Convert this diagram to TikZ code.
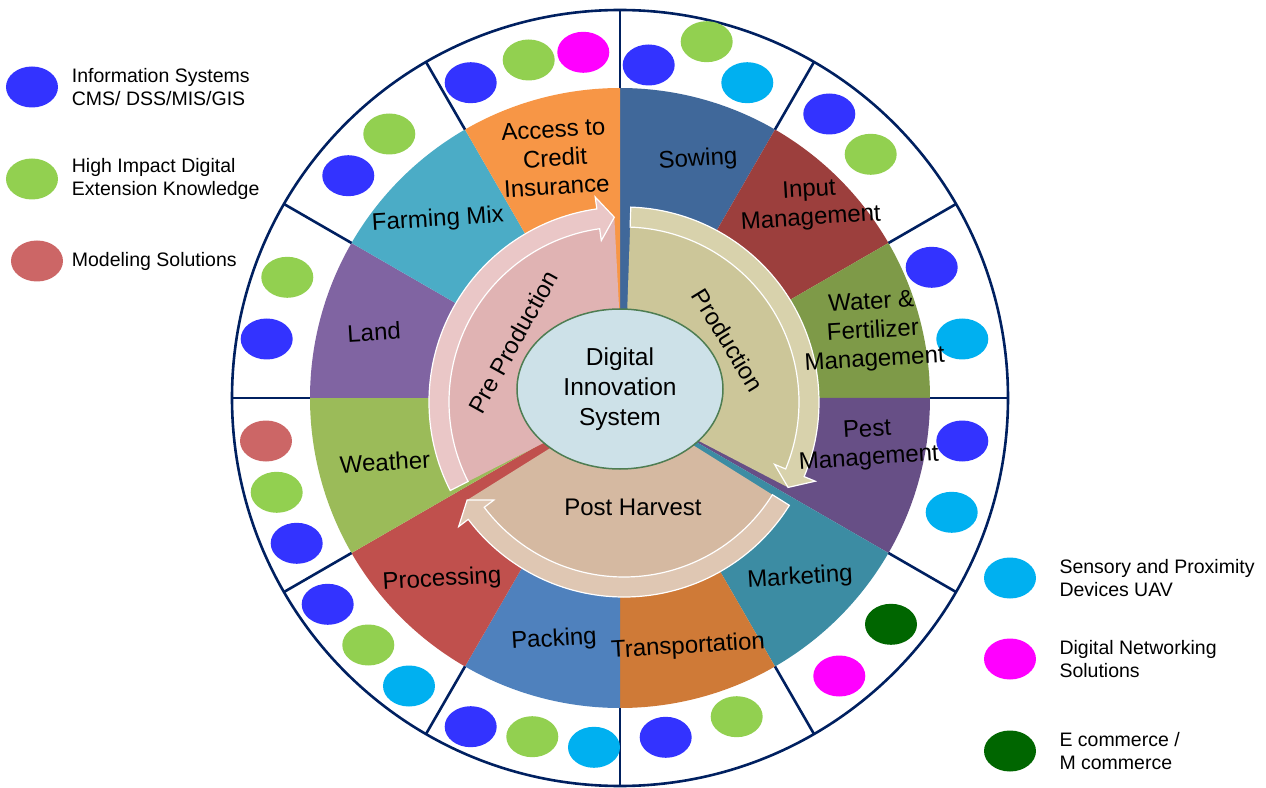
\documentclass[tikz,border=0pt]{standalone}
\usepackage{fontspec}
\setmainfont{Liberation Sans}
\usetikzlibrary{shapes.geometric}
\definecolor{navy}{HTML}{002060}
\definecolor{caccess}{HTML}{F79646}
\definecolor{csow}{HTML}{40689A}
\definecolor{cinput}{HTML}{9C3F3D}
\definecolor{cwater}{HTML}{7E9A48}
\definecolor{cpest}{HTML}{674F86}
\definecolor{cmarket}{HTML}{3C8CA3}
\definecolor{ctrans}{HTML}{CF7A37}
\definecolor{cpack}{HTML}{4F81BD}
\definecolor{cproc}{HTML}{C0504D}
\definecolor{cweather}{HTML}{9BBB59}
\definecolor{cland}{HTML}{8064A2}
\definecolor{cfarm}{HTML}{4BACC6}
\definecolor{dblue}{HTML}{3333FF}
\definecolor{dgreen}{HTML}{92D050}
\definecolor{dred}{HTML}{CC6666}
\definecolor{dcyan}{HTML}{00B0F0}
\definecolor{dmag}{HTML}{FF00FF}
\definecolor{ddark}{HTML}{006600}
\definecolor{prefill}{HTML}{E0B3B3}
\definecolor{preband}{HTML}{EAC7C7}
\definecolor{prodfill}{HTML}{CCC699}
\definecolor{prodband}{HTML}{D8D2AC}
\definecolor{postfill}{HTML}{D5B9A1}
\definecolor{postband}{HTML}{DFC7B3}
\definecolor{ellfill}{HTML}{CDE1E8}
\definecolor{ellline}{HTML}{4E7D52}
\begin{document}
\begin{tikzpicture}[x=1pt,y=1pt,
    rim/.style={navy,line width=2.6pt},
    dot/.style={ellipse,minimum width=52pt,minimum height=41pt,inner sep=0pt},
    lbl/.style={align=center,inner sep=1pt,rotate=3.5,font=\fontsize{24}{28.5}\selectfont},
    stage/.style={inner sep=1pt,font=\fontsize{24}{28}\selectfont},
    key/.style={anchor=west,inner sep=0pt,align=left,font=\fontsize{19.5}{23.5}\selectfont},
    band/.style={draw=white,line width=1.2pt},
  ]
  \useasboundingbox (-620,-389) rectangle (646,398);
  % the twelve activity sectors
  \foreach \a/\c in {90/csow,60/cinput,30/cwater,0/cpest,-30/cmarket,-60/ctrans,
      -90/cpack,-120/cproc,-150/cweather,-180/cland,-210/cfarm,-240/caccess}
    \fill[\c] (0,0) -- (\a:310) arc (\a:\a-30:310) -- cycle;
  % outer ring
  \draw[rim] (0,0) circle (388);
  \foreach \a in {0,30,...,330}
    \draw[rim] (\a:310) -- (\a:388);
  % tool dots in the ring
  \foreach \p/\c [count=\i] in {
      {-149.3,315.3}/dblue,{-91.3,338}/dgreen,{-36.7,345.7}/dmag,
      {28.7,333}/dblue,{86.7,356.3}/dgreen,{127.3,315.3}/dcyan,
      {209.3,284}/dblue,{250.7,243.7}/dgreen,
      {311.7,130.7}/dblue,{342.3,59}/dcyan,
      {342.3,-43}/dblue,{331.7,-114.3}/dcyan,
      {271,-226.3}/ddark,{219.3,-278}/dmag,
      {45.7,-339.3}/dblue,{116.7,-318.7}/dgreen,
      {-149.3,-328.7}/dblue,{-87.7,-338.7}/dgreen,{-26,-349.3}/dcyan,
      {-292.3,-206.3}/dblue,{-251.7,-247}/dgreen,{-211,-288}/dcyan,
      {-354,-43}/dred,{-343.3,-94.3}/dgreen,{-323.3,-145.3}/dblue,
      {-332.7,120.7}/dgreen,{-353.3,59}/dblue,
      {-271.7,222.3}/dblue,{-230.7,264}/dgreen}
    \node[dot,fill=\c] (d\i) at (\p) {};
  % stage arrows: tail/head base/tip
  \begin{scope}[shift={(4,-4)}]
    \foreach \t/\b/\h/\f/\s in {207/98/93/prefill/preband,
        88/-22.5/-27.5/prodfill/prodband,-32/-143/-148/postfill/postband}{
      \fill[\f] (0,0) -- (\t:195) arc (\t:\b:195) -- (\b:207) -- (\h:185) -- cycle;
      \filldraw[band,fill=\s] (\t:195) arc (\t:\b:195) -- (\b:207) -- (\h:185)
        -- (\b:163) -- (\b:175) arc (\b:\t:175) -- cycle;
    };
  \end{scope}
  \node[stage,rotate=61] (pre) at (-107,56) {Pre Production};
  \node[stage,rotate=-58.5] (prod) at (108,58) {Production};
  \node[stage] (post) at (13,-109) {Post Harvest};
  % sector labels
  \node[lbl] (access) at (-65,240) {Access to\\Credit\\Insurance};
  \node[lbl] (sow) at (78,238) {Sowing};
  \node[lbl] (input) at (190,193) {Input\\Management};
  \node[lbl] (water) at (253,66) {Water \&\\Fertilizer\\Management};
  \node[lbl] (pest) at (248,-47) {Pest\\Management};
  \node[lbl] (market) at (180,-180) {Marketing};
  \node[lbl] (trans) at (68,-249) {Transportation};
  \node[lbl] (pack) at (-66,-242) {Packing};
  \node[lbl] (proc) at (-178,-182) {Processing};
  \node[lbl] (weather) at (-235,-64) {Weather};
  \node[lbl] (land) at (-246,66) {Land};
  \node[lbl] (farm) at (-182,178) {Farming Mix};
  % centre
  \node[ellipse,draw=ellline,line width=1.5pt,fill=ellfill,minimum width=206pt,
    minimum height=160pt,inner sep=0pt,align=center,
    font=\fontsize{24.5}{30}\selectfont] (dis) at (0,9) {Digital\\Innovation\\System};
  % legend
  \node[dot,fill=dblue] (kinfo) at (-588,311) {};
  \node[key] (tinfo) at (-548.3,311) {Information Systems\\CMS/ DSS/MIS/GIS};
  \node[dot,fill=dgreen] (kext) at (-588,219) {};
  \node[key] (text) at (-548.3,219) {High Impact Digital\\Extension Knowledge};
  \node[dot,fill=dred] (kmod) at (-583,137) {};
  \node[key] (tmod) at (-548.3,137) {Modeling Solutions};
  \node[dot,fill=dcyan] (ksens) at (390,-180) {};
  \node[key] (tsens) at (439.3,-180) {Sensory and Proximity\\Devices UAV};
  \node[dot,fill=dmag] (knet) at (390,-261) {};
  \node[key] (tnet) at (439.3,-261) {Digital Networking\\Solutions};
  \node[dot,fill=ddark] (kcom) at (390,-353) {};
  \node[key] (tcom) at (439.3,-353) {E commerce /\\M commerce};
\end{tikzpicture}
\end{document}
